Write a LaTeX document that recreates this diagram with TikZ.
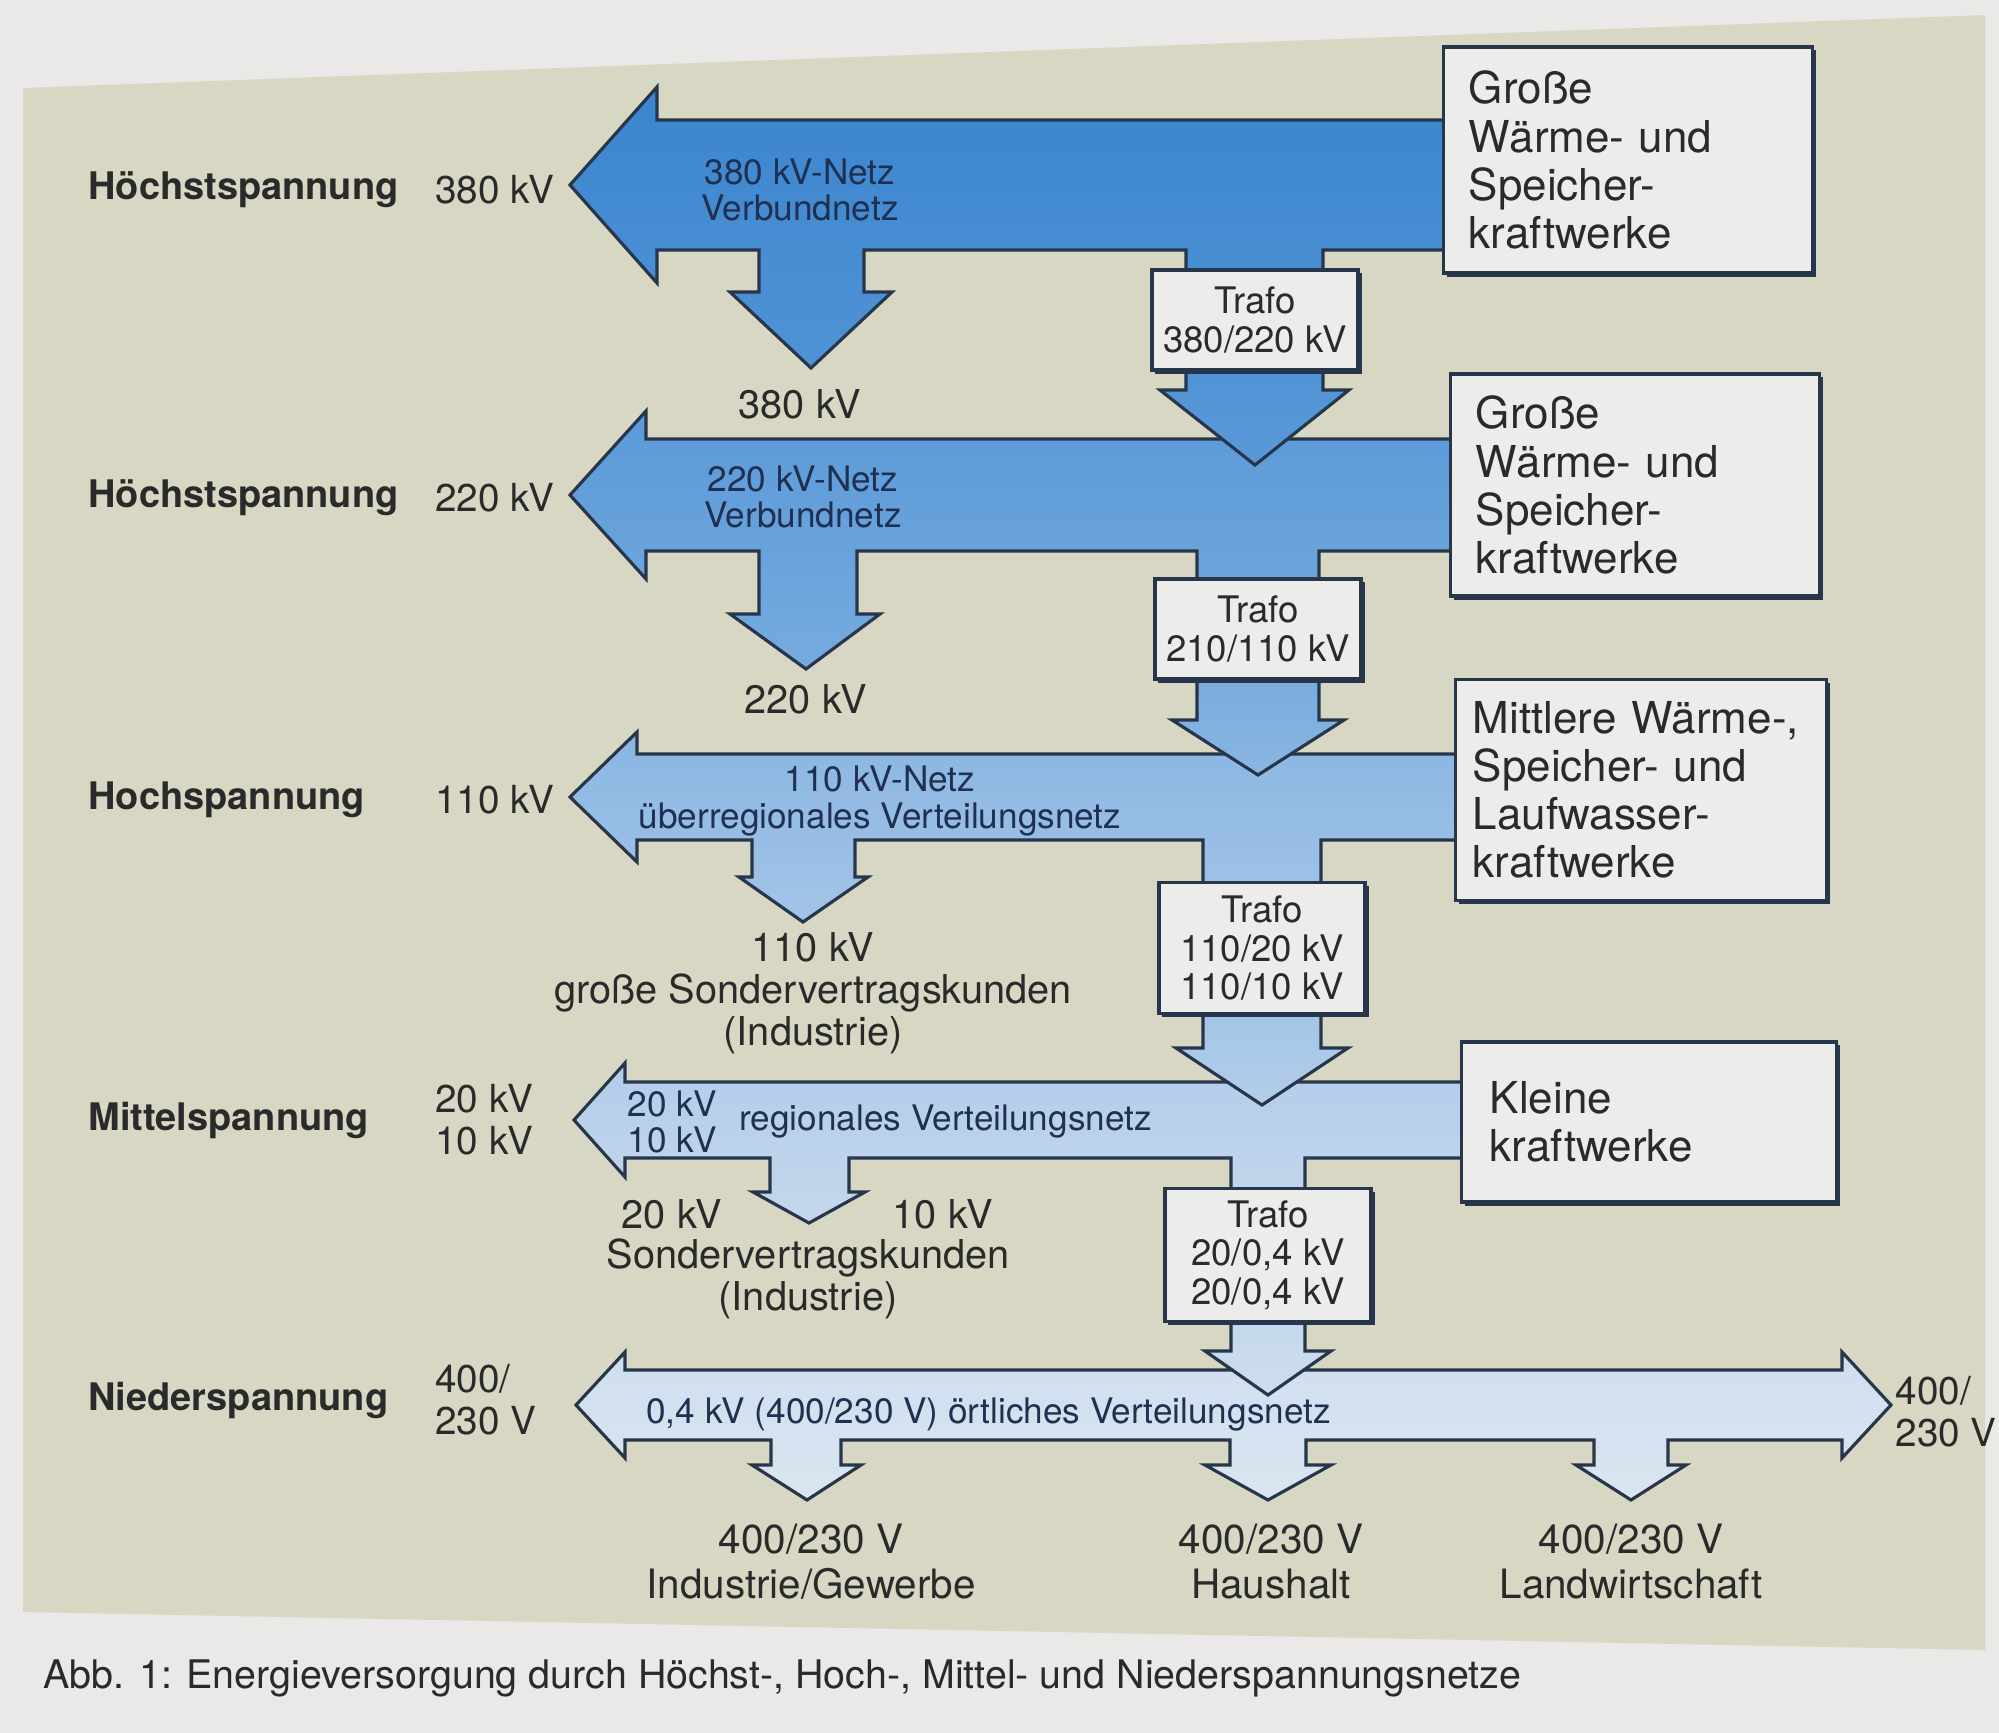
\documentclass[tikz,border=0pt]{standalone}
\usepackage{fontspec}
\setmainfont{TeX Gyre Heros}
\usetikzlibrary{shadows}
\definecolor{papier}{HTML}{EAE9E7}
\definecolor{seite}{HTML}{D8D7C4}
\definecolor{kasten}{HTML}{ECECEB}
\definecolor{linie}{HTML}{27364A}
\definecolor{schrift}{HTML}{2A2A2A}
\definecolor{netzschrift}{HTML}{1F3050}
\definecolor{blauA}{HTML}{3B85CE}
\definecolor{blauB}{HTML}{4F93D5}
\definecolor{blauC}{HTML}{5A99D8}
\definecolor{blauD}{HTML}{76ABDE}
\definecolor{blauE}{HTML}{8AB6E2}
\definecolor{blauF}{HTML}{A3C4E7}
\definecolor{blauG}{HTML}{B3CDE9}
\definecolor{blauH}{HTML}{C4D7EC}
\definecolor{blauI}{HTML}{CFDEEE}
\definecolor{blauJ}{HTML}{DAE5F0}

\begin{document}
\begin{tikzpicture}[
    x=0.01cm, y=-0.01cm,
    netzpfeil/.style 2 args={draw=linie, line width=0.9pt, line join=miter, top color=#1, bottom color=#2},
    schatten/.style={drop shadow={shadow xshift=1pt, shadow yshift=-1pt, fill=linie, opacity=1}},
    werk/.style={draw=linie, line width=0.9pt, fill=kasten, schatten, align=left, text width=3.18cm,
        inner sep=0pt, text=schrift, font=\fontsize{12.5}{13.7}\selectfont},
    trafo/.style={draw=linie, line width=0.9pt, fill=kasten, schatten, align=center, inner sep=0pt,
        minimum width=2.06cm, text=schrift, font=\fontsize{10.4}{10.9}\selectfont},
    ebene/.style={anchor=west, text=schrift, font=\fontsize{10.8}{12}\selectfont\bfseries},
    spannung/.style={anchor=west, align=left, text=schrift, font=\fontsize{11}{12}\selectfont},
    netz/.style={align=center, text=netzschrift, font=\fontsize{10}{10.4}\selectfont},
    abgabe/.style={align=center, text=schrift, font=\fontsize{11.3}{12}\selectfont},
    verbraucher/.style={align=center, text=schrift, font=\fontsize{11.5}{12.8}\selectfont}
]

%% ============================================================
%% Seite
%% ============================================================
\useasboundingbox (0,0) rectangle (1999,1733);
\fill[papier] (0,0) rectangle (1999,1733);
\fill[seite] (23,88) -- (1985,15) -- (1985,1650) -- (23,1612) -- cycle;

%% ============================================================
%% Netzpfeile (von oben nach unten)
%% ============================================================
% 380 kV
\draw[netzpfeil={blauA}{blauB}] (570,185) -- (657,87) -- (657,120) -- (1500,120) -- (1500,250)
    -- (1323,250) -- (1323,280) -- (1186,280) -- (1186,250)
    -- (864,250) -- (864,292) -- (892,292) -- (811,368) -- (730,292) -- (759,292) -- (759,250)
    -- (657,250) -- (657,283) -- cycle;
% 220 kV
\draw[netzpfeil={blauC}{blauD}] (570,495) -- (646,411) -- (646,439) -- (1500,439) -- (1500,551)
    -- (1319,551) -- (1319,590) -- (1197,590) -- (1197,551)
    -- (857,551) -- (857,614) -- (880,614) -- (806,669) -- (730,614) -- (759,614) -- (759,551)
    -- (646,551) -- (646,579) -- cycle;
\draw[netzpfeil={blauB}{blauC}] (1186,360) -- (1323,360) -- (1323,390) -- (1349,390)
    -- (1255,465) -- (1160,390) -- (1186,390) -- cycle;
% 110 kV
\draw[netzpfeil={blauE}{blauF}] (570,797) -- (637,732) -- (637,754) -- (1500,754) -- (1500,840)
    -- (1321,840) -- (1321,892) -- (1203,892) -- (1203,840)
    -- (855,840) -- (855,877) -- (868,877) -- (803,922) -- (739,877) -- (752,877) -- (752,840)
    -- (637,840) -- (637,862) -- cycle;
\draw[netzpfeil={blauD}{blauE}] (1197,670) -- (1319,670) -- (1319,720) -- (1344,720)
    -- (1258,775) -- (1172,720) -- (1197,720) -- cycle;
% 20 kV / 10 kV
\draw[netzpfeil={blauG}{blauH}] (574,1120) -- (625,1063) -- (625,1082) -- (1500,1082) -- (1500,1158)
    -- (1305,1158) -- (1305,1198) -- (1231,1198) -- (1231,1158)
    -- (849,1158) -- (849,1192) -- (865,1192) -- (809,1223) -- (753,1192) -- (770,1192) -- (770,1158)
    -- (625,1158) -- (625,1177) -- cycle;
\draw[netzpfeil={blauF}{blauG}] (1203,1005) -- (1321,1005) -- (1321,1048) -- (1348,1048)
    -- (1262,1105) -- (1176,1048) -- (1203,1048) -- cycle;
% 400/230 V
\draw[netzpfeil={blauI}{blauJ}] (576,1405) -- (625,1352) -- (625,1370) -- (1842,1370) -- (1842,1352)
    -- (1891,1405) -- (1842,1458) -- (1842,1440)
    -- (1668,1440) -- (1668,1465) -- (1686,1465) -- (1631,1500) -- (1576,1465) -- (1594,1465) -- (1594,1440)
    -- (1306,1440) -- (1306,1465) -- (1331,1465) -- (1268,1500) -- (1205,1465) -- (1230,1465) -- (1230,1440)
    -- (841,1440) -- (841,1465) -- (861,1465) -- (807,1500) -- (752,1465) -- (771,1465) -- (771,1440)
    -- (625,1440) -- (625,1458) -- cycle;
\draw[netzpfeil={blauH}{blauI}] (1231,1313) -- (1305,1313) -- (1305,1351) -- (1331,1351)
    -- (1268,1395) -- (1205,1351) -- (1231,1351) -- cycle;

%% ============================================================
%% Kraftwerke und Trafos
%% ============================================================
\node[werk, minimum width=3.68cm, minimum height=2.26cm] (kw1) at (1628,160) {Große\\Wärme- und\\Speicher-\\kraftwerke};
\node[werk, minimum width=3.69cm, minimum height=2.22cm] (kw2) at (1635,485) {Große\\Wärme- und\\Speicher-\\kraftwerke};
\node[werk, text width=3.36cm, minimum width=3.70cm, minimum height=2.21cm] (kw3) at (1641,790) {Mittlere Wärme-,\\Speicher- und\\Laufwasser-\\kraftwerke};
\node[werk, minimum width=3.74cm, minimum height=1.60cm] (kw4) at (1649,1122) {Kleine\\kraftwerke};

\node[trafo, minimum height=1.00cm] (t1) at (1255,320) {Trafo\\380/220 kV};
\node[trafo, minimum height=1.00cm] (t2) at (1258,629) {Trafo\\210/110 kV};
\node[trafo, minimum height=1.31cm] (t3) at (1262,948) {Trafo\\110/20 kV\\110/10 kV};
\node[trafo, minimum height=1.33cm] (t4) at (1268,1255) {Trafo\\20/0,4 kV\\20/0,4 kV};

%% ============================================================
%% Beschriftung
%% ============================================================
\foreach \i/\y/\name/\spg in {1/190/Höchstspannung/380 kV, 2/498/Höchstspannung/220 kV,
        3/800/Hochspannung/110 kV, 4/1120/Mittelspannung/{20 kV\\10 kV},
        5/1400/Niederspannung/{400/\\230 V}} {
    \node[ebene] (e\i) at (76,\y) {\name};
    \node[spannung] (u\i) at (423,\y) {\spg};
}

\node[netz] (n1) at (800,190) {380 kV-Netz\\Verbundnetz};
\node[netz] (n2) at (803,497) {220 kV-Netz\\Verbundnetz};
\node[netz] (n3) at (880,801) {110 kV-Netz\\überregionales Verteilungsnetz};
\node[netz, align=left] (n4a) at (672,1122) {20 kV\\10 kV};
\node[netz, anchor=west] (n4) at (727,1122) {regionales Verteilungsnetz};
\node[netz, anchor=west] (n5) at (634,1415) {0,4 kV (400/230 V) örtliches Verteilungsnetz};

\node[abgabe] (v1) at (800,404) {380 kV};
\node[abgabe] (v2) at (806,699) {220 kV};
\node[abgabe] (v3) at (813,993) {110 kV\\große Sondervertragskunden\\(Industrie)};
\node[abgabe] (v4a) at (672,1214) {20 kV};
\node[abgabe] (v4b) at (943,1214) {10 kV};
\node[abgabe] (v4) at (808,1279) {Sondervertragskunden\\(Industrie)};

\node[verbraucher] (a1) at (811,1562) {400/230 V\\Industrie/Gewerbe};
\node[verbraucher] (a2) at (1271,1562) {400/230 V\\Haushalt};
\node[verbraucher] (a3) at (1631,1562) {400/230 V\\Landwirtschaft};
\node[spannung, inner sep=0pt] (r5) at (1895,1412) {400/\\230 V};

\node[anchor=west, text=schrift, font=\fontsize{11.2}{13}\selectfont] (abb) at (31,1678)
    {Abb. 1: Energieversorgung durch Höchst-, Hoch-, Mittel- und Niederspannungsnetze};

\end{tikzpicture}
\end{document}
